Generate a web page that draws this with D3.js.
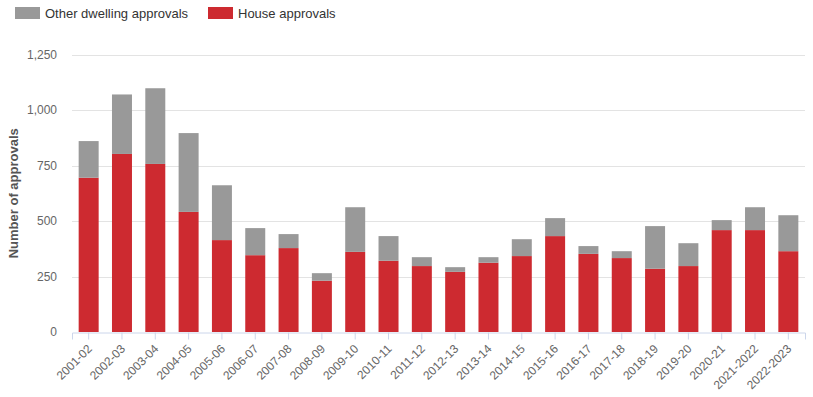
<!DOCTYPE html>
<meta charset="utf-8">
<style>
body { margin: 0; background: #fff; }
text { font-family: "Liberation Sans", Arial, sans-serif; }
</style>
<body>
<script src="https://d3js.org/d3.v7.min.js"></script>
<script>

// data
var years = ["2001-02", "2002-03", "2003-04", "2004-05", "2005-06", "2006-07", "2007-08",
  "2008-09", "2009-10", "2010-11", "2011-12", "2012-13", "2013-14", "2014-15", "2015-16",
  "2016-17", "2017-18", "2018-19", "2019-20", "2020-21", "2021-2022", "2022-2023"];
var houses = [695, 802, 757, 541, 414, 346, 378, 231, 361, 321, 297, 271, 312, 342, 432,
  352, 333, 285, 297, 459, 459, 364];
var others = [165, 268, 341, 355, 247, 122, 63, 34, 201, 111, 40, 21, 25, 76, 81,
  35, 31, 192, 103, 45, 103, 162];
var yTicks = [0, 250, 500, 750, 1000, 1250];

var seriesNames = ["House approvals", "Other dwelling approvals"];
var colours = { "House approvals": "#cd2a30", "Other dwelling approvals": "#999999" };

var width = 813, height = 397;
var margin = { top: 54.5, right: 8, bottom: 65, left: 72 };

var svg = d3.select("body").append("svg")
  .attr("width", width)
  .attr("height", height);

var x = d3.scaleBand()
  .domain(years)
  .range([margin.left, width - margin.right])
  .paddingInner(0.4)
  .paddingOuter(0.2);

var y = d3.scaleLinear()
  .domain([0, 1250])
  .range([height - margin.bottom, margin.top]);

var rows = years.map(function(d, i) {
  return { year: d, "House approvals": houses[i], "Other dwelling approvals": others[i] };
});
var stacked = d3.stack().keys(seriesNames)(rows);

// gridlines
svg.append("g")
  .selectAll("line")
  .data(yTicks.slice(1))
  .enter().append("line")
    .attr("x1", margin.left)
    .attr("x2", width - margin.right)
    .attr("y1", function(d) { return Math.round(y(d)) + 0.5; })
    .attr("y2", function(d) { return Math.round(y(d)) + 0.5; })
    .attr("stroke", "#e3e3e3");

// y axis labels
svg.append("g")
  .attr("transform", "translate(" + margin.left + ",0)")
  .call(d3.axisLeft(y).tickValues(yTicks).tickFormat(d3.format(",")).tickSize(0).tickPadding(15))
  .call(function(g) { g.select(".domain").remove(); })
  .selectAll("text")
    .attr("fill", "#666")
    .style("font-size", "12px");

// bars
svg.append("g")
  .selectAll("g")
  .data(stacked)
  .enter().append("g")
    .attr("fill", function(d) { return colours[d.key]; })
  .selectAll("rect")
  .data(function(d) { return d; })
  .enter().append("rect")
    .attr("x", function(d) { return x(d.data.year); })
    .attr("width", x.bandwidth())
    .attr("y", function(d) { return y(d[1]); })
    .attr("height", function(d) { return y(d[0]) - y(d[1]); });

// x axis
var xAxis = svg.append("g")
  .attr("transform", "translate(0," + (Math.round(y(0)) + 0.5) + ")")
  .call(d3.axisBottom(x).tickSizeOuter(0).tickSize(7));
xAxis.select(".domain").attr("stroke", "#ccd6eb");
xAxis.selectAll(".tick line").attr("stroke", "#ccd6eb");
xAxis.selectAll("text")
  .attr("fill", "#666")
  .style("font-size", "12px")
  .attr("text-anchor", "end")
  .attr("x", 0)
  .attr("y", 0)
  .attr("dy", "0.35em")
  .attr("transform", "translate(1,14) rotate(-45)");

// y axis title
svg.append("text")
  .attr("transform", "translate(18," + ((y(0) + y(1250)) / 2) + ") rotate(-90)")
  .attr("text-anchor", "middle")
  .attr("fill", "#555")
  .style("font-size", "13px")
  .style("font-weight", "bold")
  .text("Number of approvals");

// legend
var legendItems = [
  { name: "Other dwelling approvals", x: 15 },
  { name: "House approvals", x: 208 }
];
var legend = svg.append("g")
  .selectAll("g")
  .data(legendItems)
  .enter().append("g")
    .attr("transform", function(d) { return "translate(" + d.x + ",7)"; });
legend.append("rect")
  .attr("width", 25)
  .attr("height", 12)
  .attr("fill", function(d) { return colours[d.name]; });
legend.append("text")
  .attr("x", 30)
  .attr("y", 11)
  .attr("fill", "#333")
  .style("font-size", "13px")
  .text(function(d) { return d.name; });

</script>
</body>
